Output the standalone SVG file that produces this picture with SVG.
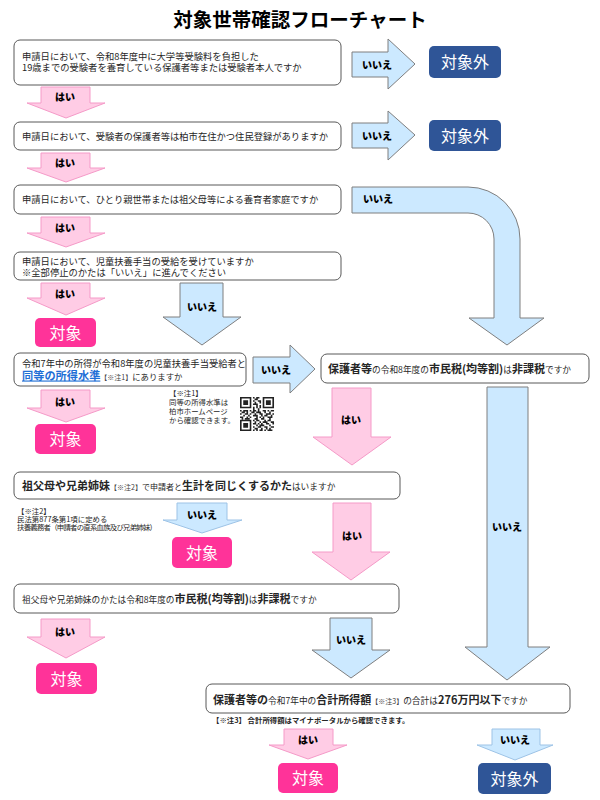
<svg xmlns="http://www.w3.org/2000/svg" width="600" height="800" viewBox="0 0 600 800">
<style>
text { font-family: "Noto Sans CJK JP", "Noto Sans", sans-serif; }
.box { fill:#fff; stroke:#595959; stroke-width:1; }
.yes { fill:#FFCCE5; stroke:#F59AC8; stroke-width:1; }
.no { fill:#CCE9FF; stroke:#7F7F7F; stroke-width:1; }
.no2 { fill:#CCE9FF; stroke:#9DC3E6; stroke-width:1; }
.tgt { fill:#FF3399; }
.out { fill:#2F5597; }
.q { font-size:9.3px; fill:#262626; }
.s { font-size:8.7px; }
.n { font-size:7px; fill:#404040; }
.b { font-size:11px; font-weight:bold; }
.lbl { font-size:10px; font-weight:900; fill:#000; text-anchor:middle; }
.term { font-size:16px; fill:#fff; text-anchor:middle; }
.note { font-size:7.4px; fill:#262626; }
</style>
<rect width="600" height="800" fill="#fff"/>
<text x="300" y="26.5" text-anchor="middle" font-size="19.5" font-weight="bold" fill="#000">対象世帯確認フローチャート</text>

<g id="connectors">
  <polygon class="no" points="352,52 388,52 388,39 415,64 388,89 388,77 352,77"/>
  <text class="lbl" x="377" y="68.5">いいえ</text>
  <polygon class="no" points="352,123 388,123 388,111 415,135 388,160 388,148 352,148"/>
  <text class="lbl" x="377" y="139.5">いいえ</text>
  <path class="no" d="M352,187 L468,187 A52,52 0 0 1 520,239 L520,318 L544,318 L507,345 L469,318 L494,318 L494,239 A26,26 0 0 0 468,213 L352,213 Z"/>
  <text class="lbl" x="378" y="203">いいえ</text>
  <polygon class="no" points="253,357 290,357 290,345 315,369 290,393 290,383 253,383"/>
  <text class="lbl" x="276" y="374">いいえ</text>

  <polygon class="yes" points="41,87 90,87 90,103 105,103 66,118 27,103 41,103"/>
  <text class="lbl" x="65" y="101">はい</text>
  <polygon class="yes" points="41,153 90,153 90,168 105,168 66,182 27,168 41,168"/>
  <text class="lbl" x="65" y="166.5">はい</text>
  <polygon class="yes" points="41,217 90,217 90,233 105,233 66,247 27,233 41,233"/>
  <text class="lbl" x="65" y="231.5">はい</text>
  <polygon class="yes" points="41,283 90,283 90,298 105,298 66,315 27,298 41,298"/>
  <text class="lbl" x="65" y="297.5">はい</text>
  <polygon class="no" points="180,283 223,283 223,317 241,317 202,345 163,317 180,317"/>
  <text class="lbl" x="202" y="311">いいえ</text>
  <polygon class="yes" points="41,390 90,390 90,408 105,408 66,422 27,408 41,408"/>
  <text class="lbl" x="65" y="405.5">はい</text>
  <polygon class="yes" points="332,388 371,388 371,437 391,437 352,465 313,437 332,437"/>
  <text class="lbl" x="351" y="424">はい</text>
  <polygon class="no" points="487,387 528,387 528,647 550,647 507,680 465,647 487,647"/>
  <text class="lbl" x="507" y="531">いいえ</text>
  <polygon class="no2" points="177,503 227,503 227,520 242,520 202,533 163,520 177,520"/>
  <text class="lbl" x="202" y="518.5">いいえ</text>
  <polygon class="yes" points="333,503 371,503 371,552 390,552 351,580 312,552 333,552"/>
  <text class="lbl" x="352" y="539.5">はい</text>
  <polygon class="yes" points="41,619 90,619 90,637 105,637 66,658 27,637 41,637"/>
  <text class="lbl" x="65" y="635.5">はい</text>
  <polygon class="no" points="330,618 372,618 372,650 390,650 351,678 312,650 330,650"/>
  <text class="lbl" x="351" y="643.5">いいえ</text>
  <polygon class="yes" points="284,729 333,729 333,745 347,745 308,759 269,745 284,745"/>
  <text class="lbl" x="308" y="743.5">はい</text>
  <polygon class="no2" points="492,729 540,729 540,745 553,745 515,760 477,745 492,745"/>
  <text class="lbl" x="515" y="743.5">いいえ</text>
</g>

<g id="q1">
  <rect class="box" x="14" y="40" width="327" height="45" rx="6"/>
  <text class="q" x="22" y="60"><tspan x="22" y="60">申請日において、令和8年度中に大学等受験料を負担した</tspan><tspan x="22" y="71">19歳までの受験者を養育している保護者等または受験者本人ですか</tspan></text>
</g>
<g id="q2">
  <rect class="box" x="14" y="122" width="327" height="28" rx="6"/>
  <text class="q" x="22" y="139.5">申請日において、受験者の保護者等は柏市在住かつ住民登録がありますか</text>
</g>
<g id="q3">
  <rect class="box" x="14" y="185" width="327" height="29" rx="6"/>
  <text class="q" x="22" y="203">申請日において、ひとり親世帯または祖父母等による養育者家庭ですか</text>
</g>
<g id="q4">
  <rect class="box" x="14" y="252" width="327" height="28" rx="6"/>
  <text class="q" x="22" y="264.5"><tspan x="22" y="264.5">申請日において、児童扶養手当の受給を受けていますか</tspan><tspan x="22" y="275.5">※全部停止のかたは「いいえ」に進んでください</tspan></text>
</g>
<g id="q5">
  <rect class="box" x="14" y="353" width="232" height="33" rx="6"/>
  <text class="q" x="22" y="366.5"><tspan x="22" y="366.5">令和7年中の所得が令和8年度の児童扶養手当受給者と</tspan><tspan x="22" y="379.5" font-size="11.2" font-weight="bold" fill="#1F6FD6" text-decoration="underline">同等の所得水準</tspan><tspan class="n">【※注1】</tspan><tspan font-size="8.4">にありますか</tspan></text>
</g>
<g id="note1">
  <text class="note" x="169" y="396"><tspan x="169" y="396">【※注1】</tspan><tspan x="169" y="405">同等の所得水準は</tspan><tspan x="169" y="414">柏市ホームページ</tspan><tspan x="169" y="423">から確認できます。</tspan></text>
  <g transform="translate(240,397) scale(1.62)">
    <path fill="#222" fill-rule="evenodd" d="M0 0h7v7h-7z M1 1v5h5v-5z M2 2h3v3h-3z M14 0h7v7h-7z M15 1v5h5v-5z M16 2h3v3h-3z M0 14h7v7h-7z M1 15v5h5v-5z M2 16h3v3h-3z"/>
    <path fill="#222" d="M8 0h1v1h-1z M10 0h2v1h-2z M9 1h2v1h-2z M8 2h1v1h-1z M11 2h2v1h-2z M9 3h1v1h-1z M12 3h1v1h-1z M8 4h3v1h-3z M10 5h1v1h-1z M12 5h1v1h-1z M8 6h1v1h-1z M10 6h1v1h-1z M12 6h1v1h-1z M8 7h1v1h-1z M11 7h1v1h-1z M0 8h1v1h-1z M2 8h3v1h-3z M6 8h1v1h-1z M8 8h2v1h-2z M11 8h1v1h-1z M14 8h2v1h-2z M17 8h1v1h-1z M19 8h2v1h-2z M1 9h2v1h-2z M4 9h1v1h-1z M7 9h2v1h-2z M10 9h3v1h-3z M15 9h1v1h-1z M18 9h1v1h-1z M0 10h1v1h-1z M3 10h2v1h-2z M6 10h1v1h-1z M9 10h1v1h-1z M12 10h2v1h-2z M16 10h3v1h-3z M20 10h1v1h-1z M2 11h1v1h-1z M5 11h1v1h-1z M8 11h3v1h-3z M13 11h1v1h-1z M15 11h2v1h-2z M19 11h1v1h-1z M0 12h2v1h-2z M4 12h1v1h-1z M6 12h1v1h-1z M10 12h1v1h-1z M12 12h1v1h-1z M14 12h1v1h-1z M17 12h3v1h-3z M1 13h1v1h-1z M3 13h3v1h-3z M9 13h2v1h-2z M13 13h2v1h-2z M18 13h1v1h-1z M8 14h1v1h-1z M10 14h2v1h-2z M15 14h1v1h-1z M17 14h2v1h-2z M9 15h1v1h-1z M12 15h1v1h-1z M14 15h3v1h-3z M19 15h2v1h-2z M8 16h2v1h-2z M11 16h1v1h-1z M13 16h1v1h-1z M16 16h2v1h-2z M20 16h1v1h-1z M10 17h1v1h-1z M12 17h3v1h-3z M18 17h1v1h-1z M8 18h1v1h-1z M11 18h2v1h-2z M15 18h2v1h-2z M19 18h2v1h-2z M9 19h2v1h-2z M13 19h1v1h-1z M16 19h1v1h-1z M18 19h1v1h-1z M8 20h1v1h-1z M10 20h1v1h-1z M12 20h2v1h-2z M15 20h1v1h-1z M17 20h3v1h-3z"/>
  </g>
</g>
<g id="q6">
  <rect class="box" x="321" y="354" width="268" height="29" rx="6"/>
  <text class="q" x="328" y="373"><tspan class="b">保護者等</tspan><tspan class="s">の令和8年度の</tspan><tspan class="b">市民税(均等割)</tspan><tspan class="s">は</tspan><tspan class="b">非課税</tspan><tspan class="s">ですか</tspan></text>
</g>
<g id="q8">
  <rect class="box" x="14" y="472" width="386" height="27" rx="6"/>
  <text class="q" x="22" y="490"><tspan class="b" font-size="10.4">祖父母や兄弟姉妹</tspan><tspan class="n">【※注2】</tspan><tspan font-size="8">で申請者と</tspan><tspan class="b">生計を同じくするかた</tspan><tspan class="s">はいますか</tspan></text>
</g>
<g id="note2">
  <text class="note" font-size="7" x="17" y="514"><tspan x="17" y="514">【※注2】</tspan><tspan x="17" y="522">民法第877条第1項に定める</tspan><tspan x="17" y="530" textLength="140">扶養義務者（申請者の直系血族及び兄弟姉妹）</tspan></text>
</g>
<g id="q9">
  <rect class="box" x="14" y="584" width="385" height="29" rx="6"/>
  <text class="q" x="22" y="603"><tspan class="s">祖父母や兄弟姉妹のかたは令和8年度の</tspan><tspan class="b">市民税(均等割)</tspan><tspan class="s">は</tspan><tspan class="b">非課税</tspan><tspan class="s">ですか</tspan></text>
</g>
<g id="q7">
  <rect class="box" x="206" y="684" width="364" height="29" rx="6"/>
  <text class="q" x="213" y="704"><tspan class="b">保護者等の</tspan><tspan class="s">令和7年中の</tspan><tspan class="b">合計所得額</tspan><tspan class="n">【※注3】</tspan><tspan class="s">の合計は</tspan><tspan class="b" font-size="12.5">276万円以下</tspan><tspan class="s">ですか</tspan></text>
</g>
<g id="note3">
  <text class="note" font-weight="bold" x="212" y="723">【※注3】 合計所得額はマイナポータルから確認できます。</text>
</g>

<g id="out1"><rect class="out" x="429" y="46" width="72" height="32" rx="5"/><text class="term" x="465" y="68">対象外</text></g>
<g id="out2"><rect class="out" x="429" y="120" width="72" height="31" rx="5"/><text class="term" x="465" y="141.5">対象外</text></g>
<g id="tgt1"><rect class="tgt" x="35" y="318" width="61" height="29" rx="5"/><text class="term" x="65.5" y="338.5">対象</text></g>
<g id="tgt2"><rect class="tgt" x="35" y="424" width="61" height="30" rx="5"/><text class="term" x="65.5" y="445">対象</text></g>
<g id="tgt3"><rect class="tgt" x="172" y="537" width="60" height="31" rx="5"/><text class="term" x="202" y="558.5">対象</text></g>
<g id="tgt4"><rect class="tgt" x="36" y="663" width="61" height="31" rx="5"/><text class="term" x="66.5" y="684.5">対象</text></g>
<g id="tgt5"><rect class="tgt" x="278" y="763" width="60" height="30" rx="5"/><text class="term" x="308" y="784">対象</text></g>
<g id="out3"><rect class="out" x="478" y="763" width="73" height="31" rx="5"/><text class="term" x="514.5" y="784.5">対象外</text></g>
</svg>
